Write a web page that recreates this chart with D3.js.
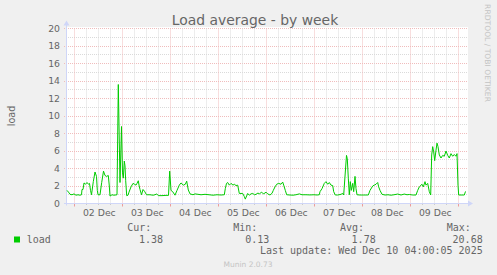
<!DOCTYPE html>
<html><head><meta charset="utf-8">
<script src="https://cdn.jsdelivr.net/npm/d3@7"></script>
<style>
html,body{margin:0;padding:0;background:#f0f0f0;}
svg{display:block;}
text{font-family:"DejaVu Sans",sans-serif;fill:#666666;}
.mono{font-family:"DejaVu Sans Mono",monospace;}
</style></head>
<body><svg id="c" width="497" height="275"></svg>
<script>
// ---- data (hours since graph start, Dec 1 20:20) ----
const startTime = new Date(2025, 11, 1, 20, 20);
const spanHours = 200;
const hours = [0,0.75,1.5,2.5,3.5,4.5,5.5,6.5,7.25,7.5,8,8.5,9.25,10,10.75,11.25,11.75,12.25,13.15,14,14.75,15.15,15.5,16.5,17.35,18.25,19,19.75,20.65,21.15,21.5,22.5,23.5,25,25.65,26.5,27.25,27.75,28.15,28.65,29,29.35,29.85,30.5,31,32,33,33.75,34.5,35,35.65,36,36.5,37.25,38,38.75,39.75,41.5,43,44,44.85,45.65,47.5,49.5,50.75,51.35,52,52.85,54,55,56.15,57,58.15,59.15,59.85,60.65,61.5,63,64,65.5,67,69,71,73,75,77,78.65,79.15,79.75,80.35,81.15,82,83,83.65,84.5,85.35,86.15,87.85,88.65,89.15,90.35,91.15,92,92.85,93.75,94.5,95.5,96.15,97.35,98.15,99,99.5,100.35,101.5,102.5,103.15,104,104.85,105.85,107,107.85,108.35,109.15,109.85,111.5,113,114.5,116.15,117.5,119.5,121.5,123.5,125,126.15,126.5,127.5,128.65,129.5,130.35,131.15,132,132.85,133.35,134.15,135.35,137,137.85,138.35,139.15,139.75,140.15,140.65,141.15,141.65,142.15,142.85,143.35,144,144.5,145,146.5,148.5,150.65,151.5,152.85,153.65,154.5,155.35,155.85,156.5,157.5,159,160.5,162,163.5,165.35,167,168.65,170,171.15,172.85,174.5,175.35,176.15,177.5,178.15,179,179.5,180.35,181.15,181.85,182.35,182.85,183.35,183.85,184.5,185,185.5,186.15,187,187.85,188.65,189.5,190.35,191.15,192,192.85,193.65,194.5,195,195.5,195.85,197,198.65,199.25];
const load = [1.5,1.3,1.05,1.0,1.1,0.95,1.0,0.95,1.0,1.6,1.6,2.35,2.2,2.4,2.2,2.3,1.5,1.0,2.5,3.6,3.1,1.5,1.0,1.0,2.4,3.7,3.2,3.1,3.2,2.0,0.85,1.0,0.95,1.0,13.6,2.4,8.8,3.5,2.9,4.85,4.3,2.6,0.9,0.95,1.3,1.9,2.3,2.2,2.1,2.3,2.6,2.1,1.6,1.0,1.6,1.4,1.0,1.0,0.95,1.0,1.1,0.9,0.9,0.93,0.93,3.7,1.5,1.35,0.95,1.5,2.1,2.35,2.1,2.2,2.55,1.55,1.1,1.0,1.1,1.05,1.0,1.05,1.0,0.95,1.0,0.97,1.0,1.7,2.3,2.4,2.1,2.3,2.1,2.2,2.05,2.1,1.15,1.15,0.8,0.5,1.15,0.95,1.1,1.15,1.0,1.05,1.2,1.1,1.3,1.1,1.2,1.3,1.1,0.97,1.16,1.5,1.9,2.2,2.3,2.2,2.45,2.1,1.5,1.0,0.97,0.95,1.0,1.1,1.0,1.0,0.98,1.0,0.97,1.0,1.35,1.7,2.3,2.5,2.2,2.4,2.1,2.05,1.35,0.97,0.97,1.05,1.16,0.97,3.6,5.5,5.1,2.9,1.0,2.5,1.5,2.3,1.35,3.1,1.7,1.0,0.97,0.97,0.97,1.5,2.0,2.1,2.2,2.4,1.9,1.5,1.05,0.97,1.0,0.95,1.0,1.08,0.97,1.08,1.0,1.03,0.97,0.97,1.5,1.9,2.2,1.9,2.5,2.1,2.3,1.35,0.97,5.55,6.5,5.9,4.9,6.1,6.9,6.5,5.55,5.2,5.5,5.4,6.0,5.5,5.2,5.7,5.4,5.6,5.4,5.7,2.1,0.97,0.97,0.97,1.38];
const yTicks = [0,2,4,6,8,10,12,14,16,18,20];
const dayLabels = ["02 Dec","03 Dec","04 Dec","05 Dec","06 Dec","07 Dec","08 Dec","09 Dec"];
const legendHeads = ["Cur:","Min:","Avg:","Max:"];
const legendVals = ["1.38","0.13","1.78","20.68"];
const title = "Load average - by week";
const yLabel = "load";
const seriesName = "load";
const lastUpdate = "Last update: Wed Dec 10 04:00:05 2025";
const watermark = "RRDTOOL / TOBI OETIKER";
const footer = "Munin 2.0.73";

// ---- layout ----
const X0 = 67, X1 = 467, Y0 = 203.5, Y1 = 28.5;
const svg = d3.select("#c");
const endTime = d3.timeHour.offset(startTime, spanHours);
const x = d3.scaleTime().domain([startTime, endTime]).range([X0, X1]);
const y = d3.scaleLinear().domain([0, 20]).range([Y0, Y1]);
const crisp = v => Math.round(v - 0.5) + 0.5;

svg.append("rect").attr("x", X0).attr("y", 27).attr("width", X1 - X0 + 1).attr("height", Y0 - 27).attr("fill", "#ffffff");

const majorCol = "#f0bcbc", minorCol = "#dadada";
const g = svg.append("g");
// horizontal grid
d3.range(0, 21, 1).forEach(v => {
  if (v === 0) return;
  const major = v % 2 === 0;
  const yy = crisp(y(v));
  g.append("line").attr("x1", major ? X0 - 3 : X0 - 1).attr("x2", X1).attr("y1", yy).attr("y2", yy)
    .attr("stroke", major ? majorCol : minorCol).attr("stroke-dasharray", "1,1");
});
// vertical grid
x.ticks(d3.timeHour.every(6)).forEach(t => {
  const major = t.getHours() === 0;
  const xx = crisp(x(t));
  g.append("line").attr("x1", xx).attr("x2", xx).attr("y1", Y1).attr("y2", Y0)
    .attr("stroke", major ? majorCol : minorCol).attr("stroke-dasharray", "1,1");
  g.append("line").attr("x1", xx).attr("x2", xx).attr("y1", Y0).attr("y2", Y0 + (major ? 3 : 1.5))
    .attr("stroke", major ? "#ec9c9c" : "#cccccc");
});

// axes
const axisCol = "#cfd6f8";
svg.append("line").attr("x1", X0 - 0.5).attr("x2", X0 - 0.5).attr("y1", Y0 + 2).attr("y2", 24).attr("stroke", axisCol);
svg.append("line").attr("x1", X0 - 3).attr("x2", X1 + 3).attr("y1", Y0).attr("y2", Y0).attr("stroke", axisCol);
svg.append("path").attr("d", `M${X0 - 3.5},25.5 L${X0 + 2.5},25.5 L${X0 - 0.5},20.5 Z`).attr("fill", axisCol);
svg.append("path").attr("d", `M${X1 + 1},${Y0 - 3} L${X1 + 1},${Y0 + 3} L${X1 + 6},${Y0} Z`).attr("fill", axisCol);

// y labels
yTicks.forEach(v => {
  svg.append("text").attr("x", 60).attr("y", y(v) + 3.4).attr("text-anchor", "end")
    .attr("font-size", "9.3px").text(v);
});
// x labels at noon
const days = d3.timeDay.range(d3.timeDay.ceil(startTime), endTime);
days.forEach((d, i) => {
  if (i >= dayLabels.length) return;
  svg.append("text").attr("x", x(d3.timeHour.offset(d, 12)) + 1).attr("y", 216.3).attr("text-anchor", "middle")
    .attr("font-size", "9.3px").text(dayLabels[i]);
});

// data line
const line = d3.line().x((d, i) => x(d3.timeMinute.offset(startTime, Math.round(hours[i] * 60)))).y(d => y(d));
svg.append("path").datum(load).attr("d", line).attr("fill", "none").attr("stroke", "#00cc00").attr("stroke-width", 1);

// title
svg.append("text").attr("x", 255).attr("y", 25).attr("text-anchor", "middle").attr("font-size", "13.9px").text(title);
// y axis label
svg.append("text").attr("transform", "translate(14.5,116) rotate(-90)").attr("text-anchor", "middle").attr("font-size", "9.6px").text(yLabel);
// watermark
svg.append("text").attr("transform", "translate(485,53) rotate(90)").attr("text-anchor", "middle").attr("font-size", "7.6px")
  .style("fill", "#c4c4c4").text(watermark);

// legend
const headX = [127.3, 233.3, 340, 446.7];
const valX = [163, 269.3, 375.7, 482.7];
legendHeads.forEach((h, i) => {
  svg.append("text").attr("class", "mono").attr("x", headX[i]).attr("y", 231).attr("font-size", "10px").text(h);
  svg.append("text").attr("class", "mono").attr("x", valX[i]).attr("y", 243).attr("text-anchor", "end").attr("font-size", "10px").text(legendVals[i]);
});
svg.append("rect").attr("x", 14).attr("y", 236.5).attr("width", 6).attr("height", 6).attr("fill", "#00cc00");
svg.append("text").attr("class", "mono").attr("x", 26.7).attr("y", 243).attr("font-size", "10px").text(seriesName);
svg.append("text").attr("class", "mono").attr("x", 482.7).attr("y", 253.5).attr("text-anchor", "end").attr("font-size", "10px").text(lastUpdate);
svg.append("text").attr("x", 248).attr("y", 266.5).attr("text-anchor", "middle").attr("font-size", "7.5px").style("fill", "#c4c4c4").text(footer);
</script></body></html>
